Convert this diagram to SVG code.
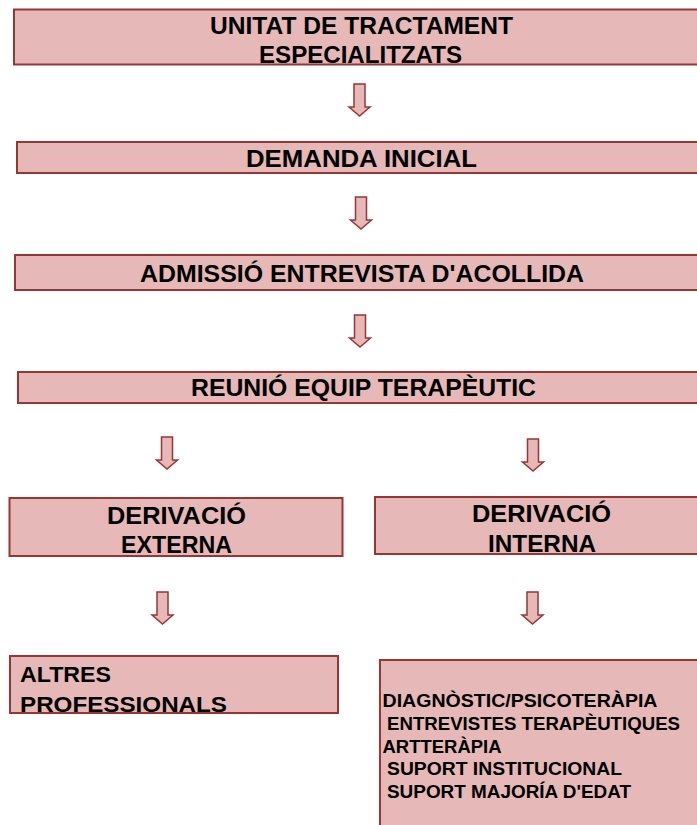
<svg xmlns="http://www.w3.org/2000/svg" width="697" height="825" viewBox="0 0 697 825">
<style>
.box{fill:#E6B8B7;stroke:#953735;stroke-width:2}
.t{font-family:"Liberation Sans",Arial,sans-serif;font-weight:bold;font-size:23px;fill:#000}
.p{font-family:"Liberation Sans",Arial,sans-serif;font-weight:bold;font-size:22px;fill:#000}
.s{font-family:"Liberation Sans",Arial,sans-serif;font-weight:bold;font-size:19px;fill:#000}
.arr{fill:#E6B8B7;stroke:#953735;stroke-width:1.5;stroke-linejoin:miter}
</style>
<defs>
<path id="arrow" class="arr" d="M-5.5,0 H5.5 V23 H10.5 L0,32 L-10.5,23 H-5.5 Z"/>
</defs>
<rect width="697" height="825" fill="#fff"/>
<g id="connectors">
<use href="#arrow" transform="translate(359.5,84)"/>
<use href="#arrow" transform="translate(361,197)"/>
<use href="#arrow" transform="translate(360,315)"/>
<use href="#arrow" transform="translate(167,437)"/>
<use href="#arrow" transform="translate(533,439)"/>
<use href="#arrow" transform="translate(162.5,592)"/>
<use href="#arrow" transform="translate(532.5,592)"/>
</g>
<g id="n1">
<rect class="box" x="14" y="9.5" width="700" height="55"/>
<text class="t" x="210" y="34" textLength="303" lengthAdjust="spacingAndGlyphs">UNITAT DE TRACTAMENT</text>
<text class="t" x="259" y="63" textLength="203" lengthAdjust="spacingAndGlyphs">ESPECIALITZATS</text>
</g>
<g id="n2">
<rect class="box" x="17" y="142" width="700" height="31"/>
<text class="t" x="246" y="167" textLength="231" lengthAdjust="spacingAndGlyphs">DEMANDA INICIAL</text>
</g>
<g id="n3">
<rect class="box" x="15" y="255" width="700" height="35"/>
<text class="t" x="140" y="282" textLength="444" lengthAdjust="spacingAndGlyphs">ADMISSIÓ ENTREVISTA D'ACOLLIDA</text>
</g>
<g id="n4">
<rect class="box" x="18" y="372" width="700" height="31"/>
<text class="t" x="191" y="396" textLength="345" lengthAdjust="spacingAndGlyphs">REUNIÓ EQUIP TERAPÈUTIC</text>
</g>
<g id="n5">
<rect class="box" x="9.5" y="498" width="333" height="58"/>
<text class="t" x="107" y="524" textLength="139" lengthAdjust="spacingAndGlyphs">DERIVACIÓ</text>
<text class="t" x="121" y="553" textLength="111" lengthAdjust="spacingAndGlyphs">EXTERNA</text>
</g>
<g id="n6">
<rect class="box" x="375" y="497" width="340" height="57"/>
<text class="t" x="472" y="522" textLength="139" lengthAdjust="spacingAndGlyphs">DERIVACIÓ</text>
<text class="t" x="488" y="552" textLength="108" lengthAdjust="spacingAndGlyphs">INTERNA</text>
</g>
<g id="n7">
<rect class="box" x="10" y="656" width="328" height="57"/>
<text class="p" x="20" y="682" textLength="91" lengthAdjust="spacingAndGlyphs">ALTRES</text>
<text class="p" x="20" y="712" textLength="207" lengthAdjust="spacingAndGlyphs">PROFESSIONALS</text>
</g>
<g id="n8">
<rect class="box" x="380" y="660" width="340" height="180"/>
<text class="s" x="382.5" y="707" textLength="275" lengthAdjust="spacingAndGlyphs">DIAGNÒSTIC/PSICOTERÀPIA</text>
<text class="s" x="387" y="730" textLength="293" lengthAdjust="spacingAndGlyphs">ENTREVISTES TERAPÈUTIQUES</text>
<text class="s" x="382.5" y="753" textLength="119" lengthAdjust="spacingAndGlyphs">ARTTERÀPIA</text>
<text class="s" x="387" y="775" textLength="235" lengthAdjust="spacingAndGlyphs">SUPORT INSTITUCIONAL</text>
<text class="s" x="387" y="798" textLength="244" lengthAdjust="spacingAndGlyphs">SUPORT MAJORÍA D'EDAT</text>
</g>
</svg>
